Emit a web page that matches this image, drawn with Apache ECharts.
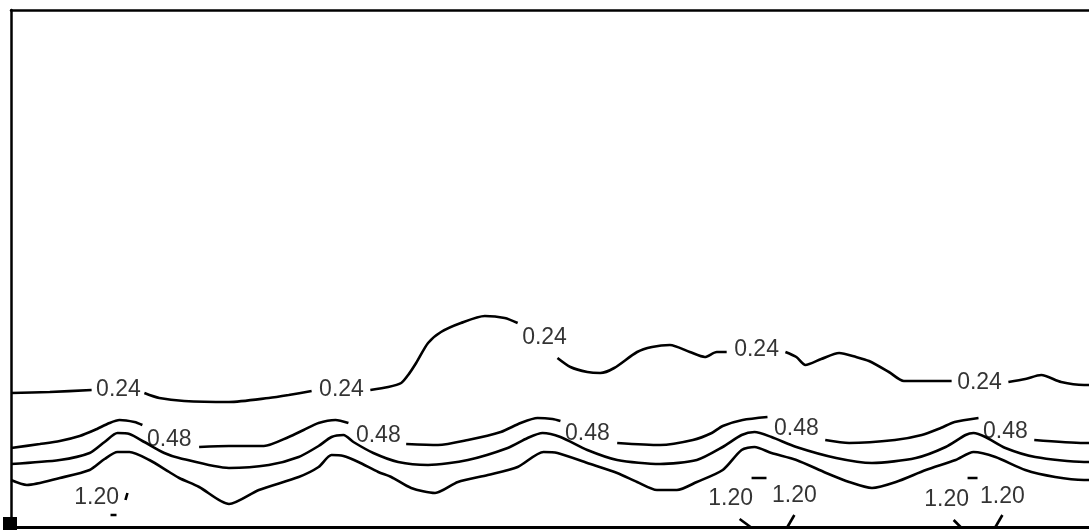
<!DOCTYPE html>
<html>
<head>
<meta charset="utf-8">
<script src="https://cdn.jsdelivr.net/npm/echarts@6/dist/echarts.min.js"></script>
<style>
html,body{margin:0;padding:0;background:#fff;}
#chart{width:1089px;height:530px;}
</style>
</head>
<body>
<div id="chart"></div>
<script>
// Distance (x) and depth (y) in chart units; contour segments per level
const contour024 = [
  [[0,383],[39,382],[81,380]],
  [[134,383],[149,388],[174,391],[219,392],[259,388],[279,385],[302,381]],
  [[361,380],[379,377],[392,373],[399,365],[407,353],[419,333],[432,322],[452,313],[476,306],[496,308],[509,313]],
  [[549,348],[562,357],[579,362],[592,363],[606,358],[629,342],[644,337],[662,335],[682,342],[697,347],[709,342],[719,342]],
  [[778,342],[789,347],[798,355],[814,349],[832,343],[849,347],[862,351],[882,362],[897,371],[945,371]],
  [[1002,372],[1019,369],[1035,365],[1055,372],[1078,375],[1083,375]]
];
const contour048 = [
  [[0,438],[29,434],[49,431],[69,426],[84,420],[99,413],[109,410],[124,412],[132,415]],
  [[189,437],[219,436],[254,436],[279,427],[294,420],[309,413],[326,410],[339,413]],
  [[397,434],[429,435],[459,430],[492,422],[512,413],[529,408],[544,409],[552,411]],
  [[609,433],[652,435],[685,430],[704,423],[715,416],[735,410],[760,407]],
  [[818,430],[842,433],[888,430],[915,425],[934,418],[948,412],[972,408]],
  [[1028,430],[1078,433],[1083,433]]
];
const contour072 = [
  [[0,454],[49,450],[79,443],[94,432],[107,423],[119,424],[134,432],[154,443],[169,448],[219,458],[259,455],[289,447],[309,436],[322,427],[334,425],[344,432],[364,443],[389,452],[419,455],[459,450],[499,438],[519,428],[534,423],[552,427],[579,440],[609,450],[652,454],[689,450],[715,437],[734,425],[747,422],[764,427],[789,437],[829,448],[865,453],[909,448],[939,437],[959,425],[967,423],[979,427],[999,438],[1029,447],[1078,452],[1083,452]]
];
const contour096 = [
  [[0,470],[16,475],[49,468],[79,460],[94,449],[107,442],[119,442],[139,450],[159,462],[169,468],[189,477],[219,494],[249,480],[289,467],[309,457],[322,445],[334,446],[349,452],[369,462],[382,467],[402,478],[426,483],[449,472],[479,465],[509,457],[535,442],[549,443],[579,453],[609,463],[629,472],[649,480],[669,480],[689,472],[715,460],[734,440],[747,437],[764,443],[789,450],[819,463],[842,472],[865,478],[889,472],[919,460],[949,450],[967,442],[989,447],[1019,460],[1049,467],[1078,470],[1083,470]]
];
const contour120 = [
  [[117,483],[115,490]],
  [[100,505],[106,505]],
  [[744,468],[759,468]],
  [[732,509],[743,517]],
  [[787,505],[780,517]],
  [[961,468],[971,468]],
  [[947,510],[954,517]],
  [[996,505],[989,517]]
];
// contour labels: [x, y, text]
const contourLabels = [
  [108,380,'0.24'],[332,380,'0.24'],[536,328,'0.24'],[749,340,'0.24'],[973,373,'0.24'],
  [159,430,'0.48'],[369,426,'0.48'],[579,424,'0.48'],[789,419,'0.48'],[999,422,'0.48'],
  [86,488,'1.20'],[723,489,'1.20'],[787,486,'1.20'],[940,490,'1.20'],[996,487,'1.20']
];

const series = [];
[contour024, contour048, contour072, contour096, contour120].forEach(level => {
  level.forEach(seg => {
    series.push({
      type: 'line',
      data: seg,
      symbol: 'none',
      smooth: 0.25,
      lineStyle: { color: '#000', width: 2.6 },
      silent: true,
      xAxisIndex: 0, yAxisIndex: 0
    });
  });
});
series.push({
  type: 'scatter',
  data: contourLabels.map(d => ({ value: [d[0], d[1]], name: d[2] })),
  symbolSize: 1,
  itemStyle: { color: 'rgba(0,0,0,0)' },
  label: {
    show: true, position: 'inside', formatter: p => p.name,
    color: '#000', fontFamily: 'Liberation Sans, Arial, sans-serif', fontSize: 23,
    textBorderWidth: 0
  },
  silent: true
});

const chart = echarts.init(document.getElementById('chart'), null, { renderer: 'canvas' });
chart.setOption({
  animation: false,
  backgroundColor: '#fff',
  grid: { left: 11, right: -5, top: 10, bottom: 3, containLabel: false },
  xAxis: [
    { type: 'value', min: 0, max: 1083, position: 'bottom',
      axisLine: { show: true, onZero: false, lineStyle: { color: '#000', width: 3 } },
      axisTick: { show: false }, axisLabel: { show: false }, splitLine: { show: false } },
    { type: 'value', min: 0, max: 1083, position: 'top',
      axisLine: { show: true, onZero: false, lineStyle: { color: '#000', width: 2.5 } },
      axisTick: { show: false }, axisLabel: { show: false }, splitLine: { show: false } }
  ],
  yAxis: { type: 'value', min: 0, max: 517, inverse: true,
    axisLine: { show: true, onZero: false, lineStyle: { color: '#000', width: 2.5 } },
    axisTick: { show: false }, axisLabel: { show: false }, splitLine: { show: false } },
  graphic: [
    { type: 'rect', left: 3, top: 517, shape: { width: 14, height: 13 }, style: { fill: '#000' } }
  ],
  series: series
});
</script>
</body>
</html>
